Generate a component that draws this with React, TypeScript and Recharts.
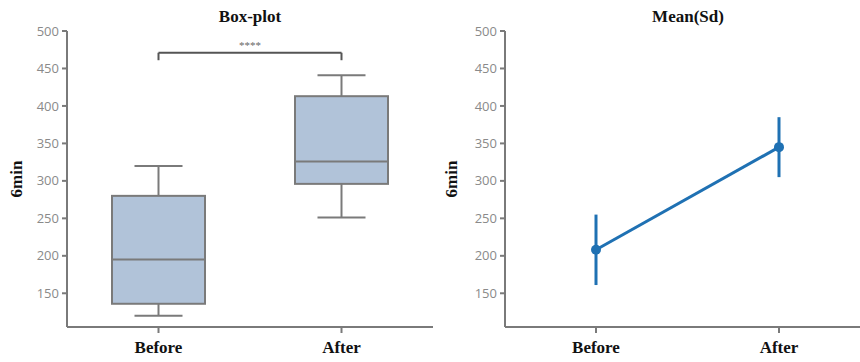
import React from "react";
import {
  ComposedChart,
  Bar,
  Line,
  ErrorBar,
  XAxis,
  YAxis,
  ReferenceLine,
} from "recharts";

const groups = ["Before", "After"];
const whiskerLow = [120, 251];
const quartile1 = [136, 296];
const medians = [195, 326];
const quartile3 = [280, 413];
const whiskerHigh = [320, 441];

const means = [208, 345];
const sds = [47, 40];

const yTicks = [150, 200, 250, 300, 350, 400, 450, 500];
const yDomain: [number, number] = [105, 500];
const bracketY = 471;
const bracketTip = 461;

const boxData = groups.map((g, i) => ({
  group: g,
  box: [quartile1[i], quartile3[i]],
  q1: quartile1[i],
  q3: quartile3[i],
  med: medians[i],
  lo: whiskerLow[i],
  hi: whiskerHigh[i],
}));

const meanData = groups.map((g, i) => ({ group: g, mean: means[i], sd: sds[i] }));

const AXIS = "#7a7a7a";
const BOX_FILL = "#b1c3d9";
const BLUE = "#1f71b3";

const tickStyle = { fontSize: 13, fill: "#8a8a8a", fontFamily: "'Open Sans', sans-serif" };
const catTick = {
  fontSize: 17,
  fill: "#111",
  fontWeight: "bold" as const,
  fontFamily: "'Liberation Serif', 'Times New Roman', serif",
};
const titleStyle: React.CSSProperties = {
  position: "absolute",
  top: 7,
  fontSize: 17,
  fontWeight: "bold",
  fontFamily: "'Liberation Serif', 'Times New Roman', serif",
  color: "#111",
  textAlign: "center",
};

// box + whiskers drawn from the bar's own pixel geometry (q1..q3 range)
const BoxShape = (props: any) => {
  const { x, y, width, height, payload } = props;
  const top = Math.min(y, y + height);
  const h = Math.abs(height);
  const ratio = h / (payload.q3 - payload.q1);
  const py = (v: number) => top + (payload.q3 - v) * ratio;
  const cx = x + width / 2;
  const cap = 24;
  return (
    <g stroke={AXIS} strokeWidth={2}>
      <line x1={cx} x2={cx} y1={py(payload.hi)} y2={top} />
      <line x1={cx} x2={cx} y1={top + h} y2={py(payload.lo)} />
      <line x1={cx - cap} x2={cx + cap} y1={py(payload.hi)} y2={py(payload.hi)} />
      <line x1={cx - cap} x2={cx + cap} y1={py(payload.lo)} y2={py(payload.lo)} />
      <rect x={x} y={top} width={width} height={h} fill={BOX_FILL} />
      <line x1={x} x2={x + width} y1={py(payload.med)} y2={py(payload.med)} />
    </g>
  );
};

const yLabel = (offset: number) => ({
  value: "6min",
  angle: -90,
  position: "insideLeft" as const,
  offset,
  style: {
    textAnchor: "middle",
    fontSize: 17,
    fontWeight: "bold",
    fill: "#111",
    fontFamily: "'Liberation Serif', 'Times New Roman', serif",
  },
});

export default function App() {
  return (
    <div
      style={{
        position: "absolute",
        left: 0,
        top: 0,
        width: 860,
        height: 362,
        overflow: "hidden",
        background: "#fff",
      }}
    >
      <div style={{ ...titleStyle, left: 67, width: 366 }}>Box-plot</div>
      <div style={{ ...titleStyle, left: 505, width: 366 }}>Mean(Sd)</div>

      <div style={{ position: "absolute", left: 0, top: 0 }}>
        <ComposedChart
          width={433}
          height={362}
          data={boxData}
          margin={{ top: 31, right: 0, left: 10, bottom: 0 }}
        >
          <XAxis
            dataKey="group"
            height={35}
            tick={catTick}
            tickSize={6}
            tickMargin={8}
            stroke={AXIS}
            strokeWidth={2}
          />
          <YAxis
            domain={yDomain}
            ticks={yTicks}
            width={57}
            tick={tickStyle}
            tickSize={5}
            tickMargin={3}
            stroke={AXIS}
            strokeWidth={2}
            label={yLabel(6)}
          />
          <Bar dataKey="box" barSize={93} shape={BoxShape} isAnimationActive={false} />
          <ReferenceLine
            segment={[
              { x: "Before", y: bracketY },
              { x: "After", y: bracketY },
            ]}
            stroke="#555"
            strokeWidth={2}
            label={{ value: "****", position: "top", fill: "#666", fontSize: 11, offset: 4 }}
          />
          <ReferenceLine
            segment={[
              { x: "Before", y: bracketY },
              { x: "Before", y: bracketTip },
            ]}
            stroke="#555"
            strokeWidth={2}
          />
          <ReferenceLine
            segment={[
              { x: "After", y: bracketY },
              { x: "After", y: bracketTip },
            ]}
            stroke="#555"
            strokeWidth={2}
          />
        </ComposedChart>
      </div>

      <div style={{ position: "absolute", left: 433, top: 0 }}>
        <ComposedChart
          width={438}
          height={362}
          data={meanData}
          margin={{ top: 31, right: 0, left: 15, bottom: 0 }}
        >
          <XAxis
            dataKey="group"
            height={35}
            tick={catTick}
            tickSize={6}
            tickMargin={8}
            stroke={AXIS}
            strokeWidth={2}
            padding={{ left: 91, right: 92 }}
          />
          <YAxis
            domain={yDomain}
            ticks={yTicks}
            width={57}
            tick={tickStyle}
            tickSize={5}
            tickMargin={3}
            stroke={AXIS}
            strokeWidth={2}
            label={yLabel(3)}
          />
          <Line
            type="linear"
            dataKey="mean"
            stroke={BLUE}
            strokeWidth={3}
            dot={{ r: 5, fill: BLUE, stroke: "none" }}
            isAnimationActive={false}
          >
            <ErrorBar dataKey="sd" width={0} stroke={BLUE} strokeWidth={3} direction="y" />
          </Line>
        </ComposedChart>
      </div>
    </div>
  );
}
